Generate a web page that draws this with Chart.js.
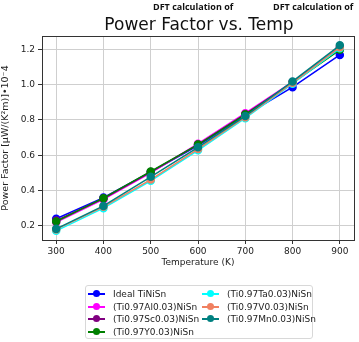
<!DOCTYPE html>
<html>
<head>
<meta charset="utf-8">
<script src="https://cdn.jsdelivr.net/npm/chart.js@4"></script>
<style>
  body { margin: 0; background: #fff; }
  #wrap { position: relative; width: 359px; height: 342px; }
  .note { position: absolute; top: 0px; font: bold 9px "Open Sans", sans-serif; color: #111; white-space: nowrap; }
  #title { position: absolute; top: 14px; left: 0; width: 398px; text-align: center; font: 17px "DejaVu Sans", sans-serif; color: #111; }
  #legend { position: absolute; left: 85px; top: 285px; width: 226px; height: 52px; border: 1px solid #d8d8d8; border-radius: 3px;
            font: 9px "DejaVu Sans", sans-serif; color: #222; }
  .item { position: absolute; height: 12px; line-height: 12px; white-space: nowrap; }
  .mk { position: absolute; top: 5px; left: 0; width: 17px; height: 2px; }
  .mk i { position: absolute; left: 5px; top: -3px; width: 7px; height: 7px; border-radius: 50%; }
  .txt { position: absolute; left: 25px; top: 0; }
</style>
</head>
<body>
<div id="wrap">
  <canvas id="PFChart" width="359" height="342"></canvas>
  <div class="note" style="left:153px">DFT calculation of</div>
  <div class="note" style="left:273px">DFT calculation of</div>
  <div id="title">Power Factor vs. Temp</div>
  <div id="legend"></div>
</div>
<script>
const temps = [300, 400, 500, 600, 700, 800, 900];
const xTicks = [300, 400, 500, 600, 700, 800, 900];
const yTicks = [0.2, 0.4, 0.6, 0.8, 1.0, 1.2];

const names = ['Ideal TiNiSn', '(Ti0.97Al0.03)NiSn', '(Ti0.97Sc0.03)NiSn', '(Ti0.97Y0.03)NiSn',
               '(Ti0.97Ta0.03)NiSn', '(Ti0.97V0.03)NiSn', '(Ti0.97Mn0.03)NiSn'];
const colors = ['#0000ff', '#ff00ff', '#800080', '#008000', '#00ffff', '#f08060', '#008080'];

const ideal = [0.240, 0.360, 0.505, 0.655, 0.825, 0.985, 1.168];
const al    = [0.220, 0.350, 0.500, 0.665, 0.838, 1.015, 1.210];
const sc    = [0.230, 0.355, 0.505, 0.660, 0.832, 1.012, 1.205];
const yt    = [0.225, 0.357, 0.508, 0.660, 0.830, 1.010, 1.197];
const ta    = [0.172, 0.300, 0.455, 0.628, 0.810, 1.005, 1.205];
const va    = [0.180, 0.308, 0.462, 0.635, 0.815, 1.010, 1.212];
const mn    = [0.183, 0.313, 0.478, 0.645, 0.822, 1.018, 1.222];
const series = [ideal, al, sc, yt, ta, va, mn];

/* 外框 */
const frame = {
  id: 'frame',
  afterDatasetsDraw(chart) {
    const a = chart.chartArea, c = chart.ctx;
    c.save();
    c.strokeStyle = '#333';
    c.lineWidth = 1;
    c.strokeRect(Math.round(a.left) + 0.5, Math.round(a.top) + 0.5, Math.round(a.right - a.left), Math.round(a.bottom - a.top));
    c.restore();
  }
};

const datasets = series.map((vals, i) => ({
  label: names[i],
  data: temps.map((t, j) => ({ x: t, y: vals[j] })),
  borderColor: colors[i],
  backgroundColor: colors[i],
  borderWidth: 1.5,
  pointRadius: 3.5,
  pointHoverRadius: 3.5,
  order: series.length - i
}));

const chart = new Chart(document.getElementById('PFChart'), {
  type: 'line',
  data: { datasets: datasets },
  plugins: [frame],
  options: {
    responsive: false,
    animation: false,
    layout: { padding: { top: 36, right: 3, left: 0, bottom: 74 } },
    plugins: { legend: { display: false }, tooltip: { enabled: false } },
    scales: {
      x: {
        type: 'linear', min: 270, max: 930,
        afterBuildTicks: s => { s.ticks = xTicks.map(v => ({ value: v })); },
        afterFit: s => { s.height = 28; },
        grid: { color: '#cfcfcf', lineWidth: 1, tickLength: 4, tickColor: '#333' },
        border: { display: false },
        ticks: { color: '#222', font: { family: 'DejaVu Sans', size: 9 }, padding: 2, maxRotation: 0 },
        title: { display: true, text: 'Temperature (K)', color: '#222', font: { family: 'DejaVu Sans', size: 9 }, padding: { top: 1, bottom: 0 } }
      },
      y: {
        min: 0.12, max: 1.275,
        afterBuildTicks: s => { s.ticks = yTicks.map(v => ({ value: v })); },
        afterFit: s => { s.width = 42; },
        grid: { color: '#cfcfcf', lineWidth: 1, tickLength: 4, tickColor: '#333' },
        border: { display: false },
        ticks: { color: '#222', font: { family: 'DejaVu Sans', size: 9 }, padding: 3, callback: v => v.toFixed(1) },
        title: { display: true, text: 'Power Factor [μW/(K²m)]•10⁻4', color: '#222', font: { family: 'DejaVu Sans', size: 9.5 }, padding: { top: 0, bottom: 2 } }
      }
    }
  }
});

/* 圖例：兩欄，先直後橫 */
const legend = document.getElementById('legend');
const perCol = 4;
chart.data.datasets.forEach((ds, i) => {
  const col = Math.floor(i / perCol), row = i % perCol;
  const el = document.createElement('div');
  el.className = 'item';
  el.style.left = (col === 0 ? 2 : 116) + 'px';
  el.style.top = (2 + row * 12.6) + 'px';
  el.innerHTML = `<span class="mk" style="background:${ds.borderColor}"><i style="background:${ds.borderColor}"></i></span><span class="txt">${ds.label}</span>`;
  legend.appendChild(el);
});
</script>
</body>
</html>
